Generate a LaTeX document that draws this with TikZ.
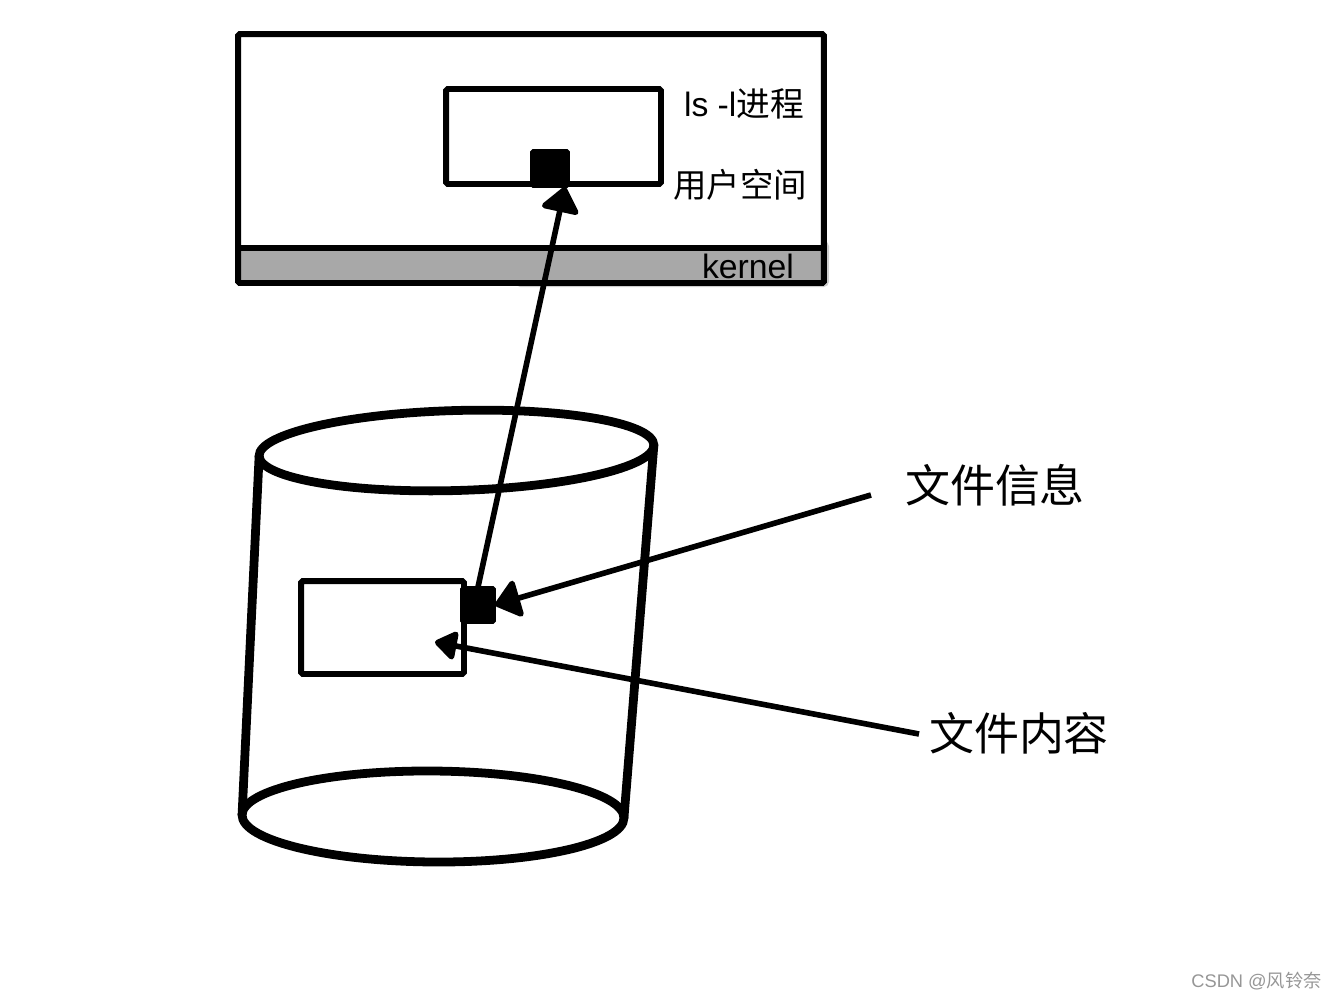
\documentclass[tikz,border=0pt]{standalone}
\usepackage{fontspec}
\setmainfont{Liberation Sans}
\newfontfamily\cjk{Noto Sans CJK SC}
\usepackage{tikz}
\usetikzlibrary{positioning,calc,shapes.geometric,arrows.meta}
\definecolor{KernelGray}{RGB}{168, 168, 168}
\definecolor{SmearGray}{RGB}{205, 205, 205}
\definecolor{MarkGray}{RGB}{150, 150, 150}

\begin{document}
\begin{tikzpicture}[x=0.02cm, y=-0.02cm, >={Triangle[length=0.54cm, width=0.84cm, round]},
    boxnode/.style={draw=black, rectangle, line width=3.4pt, rounded corners=1pt, inner sep=0pt, outer sep=0pt},
    blocknode/.style={draw=black, fill=black, rectangle, line width=1pt, rounded corners=1pt, inner sep=0pt, outer sep=0pt},
    disknode/.style={draw=black, ellipse, line width=5pt, inner sep=0pt, outer sep=0pt},
    smalltext/.style={font=\fontsize{19.2pt}{22pt}\selectfont, inner sep=0pt},
    bigtext/.style={font=\fontsize{25.6pt}{30pt}\selectfont\cjk, inner sep=0pt},
    pointer/.style={->, line width=3.2pt}]
    \useasboundingbox (0,0) rectangle (1338,1000);

    % Nodes
    \fill [SmearGray, rounded corners=3pt] (515,241) rectangle (829,287);
    \node [boxnode, fill=white, minimum width=11.72cm, minimum height=4.98cm] (host) at (531,158.5) {};
    \node [boxnode, fill=KernelGray, minimum width=11.72cm, minimum height=0.7cm] (kernelband) at (531,265.5) {};
    \node [boxnode, minimum width=4.3cm, minimum height=1.9cm] (procbox) at (553.5,136.5) {};
    \node [blocknode, minimum width=0.76cm, minimum height=0.74cm] (procblock) at (550,168.5) {};
    \node [smalltext] (proclabel) at (744,104) {ls -l{\cjk 进程}};
    \node [smalltext, font=\fontsize{19pt}{22pt}\selectfont\cjk] (userlabel) at (740,185) {用户空间};
    \node [smalltext] (kernellabel) at (748,266) {kernel};

    \node [disknode, minimum width=7.9cm, minimum height=1.6cm, rotate=1.6] (disktop) at (456.5,450.5) {};
    \node [disknode, minimum width=7.64cm, minimum height=1.82cm, rotate=-0.45] (diskbottom) at (433,816.5) {};
    \node [boxnode, minimum width=3.26cm, minimum height=1.86cm] (contentbox) at (382.5,627.5) {};
    \node [blocknode, minimum width=0.68cm, minimum height=0.72cm] (infoblock) at (478,605) {};

    \node [bigtext] (infolabel) at (995,485) {文件信息};
    \node [bigtext] (contentlabel) at (1019,733) {文件内容};
    \node [font=\fontsize{10.4pt}{12pt}\selectfont, text=MarkGray, inner sep=0pt] (watermark) at (1256.5,981) {CSDN @{\cjk 风铃奈}};

    \coordinate (infotail) at (871,495);
    \coordinate (contenttail) at (919,734);
    \coordinate (contenttip) at (435,642);

    % Paths
    \draw [disknode] (disktop.west) -- (diskbottom.west);
    \draw [disknode] (disktop.east) -- (diskbottom.east);
    \draw [pointer] (infoblock.north) -- ([xshift=-0.08cm]procblock.south east);
    \draw [pointer] (infotail) -- (infoblock.east);
    \draw [pointer, >={Triangle[length=0.48cm, width=0.64cm, round]}] (contenttail) -- (contenttip);
\end{tikzpicture}
\end{document}
